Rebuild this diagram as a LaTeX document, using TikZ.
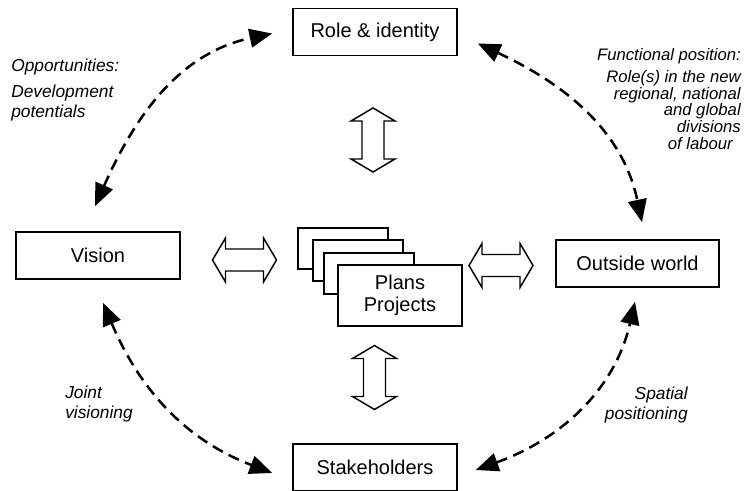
\documentclass[tikz,border=0pt]{standalone}
\usepackage{fontspec}
\setmainfont{Liberation Sans}
\usetikzlibrary{arrows.meta,calc}

\tikzset{
    box/.style={draw, line width=1.2pt, fill=white, minimum width=123pt, minimum height=35.25pt,
        inner sep=0pt, font=\fontsize{15}{17}\selectfont},
    card/.style={draw, line width=1.2pt, fill=white, minimum width=67.5pt, minimum height=30.75pt, inner sep=0pt},
    note/.style={inner sep=0pt, font=\fontsize{13}{15}\selectfont\itshape},
    link/.style={line width=1.9pt, dash pattern=on 8.5pt off 5pt,
        {Triangle[length=17pt,width=14pt]}-{Triangle[length=17pt,width=14pt]}},
    hollow arrow/.pic={
        \draw[line width=1.1pt, fill=white, line join=miter]
            (-32,0) -- (-19,22) -- (-19,11) -- (19,11) -- (19,22) -- (32,0)
            -- (19,-22) -- (19,-11) -- (-19,-11) -- (-19,-22) -- cycle;
    }
}

\begin{document}
\begin{tikzpicture}[x=0.75pt, y=0.75pt]
        \useasboundingbox (0,0) rectangle (745,491);

        % Main boxes
        \node[box] (role) at (375,459) {Role \& identity};
        \node[box] (vision) at (98,235.5) {Vision};
        \node[box, minimum width=122.25pt] (outside) at (637.5,227.5) {Outside world};
        \node[box] (stake) at (375,23.5) {Stakeholders};

        % Stack of plans in the middle
        \foreach \n/\x/\y in {1/343/242.5, 2/358/230.5, 3/369/217.5} {
            \node[card] (card\n) at (\x,\y) {};
        };
        \node[box, minimum width=93pt, minimum height=45.75pt, align=center] (plans) at (400,195.5)
            {Plans\\Projects};

        % Hollow two-way arrows
        \foreach \x/\y/\r in {244.5/231/0, 501/225.5/0, 373/351/90, 374.5/113.5/90} {
            \pic[rotate=\r] at (\x,\y) {hollow arrow};
        };

        % Dashed links round the circle
        \draw[link] ($(vision.north)+(-3,25)$) to[out=66,in=192] ($(role.west)+(-20,-1.5)$);
        \draw[link] ($(role.east)+(20,-11.5)$) to[out=-25,in=102] ($(outside.north)+(4.5,17)$);
        \draw[link] ($(vision.south)+(5,-23)$) to[out=-67,in=159] ($(stake.west)+(-20,-5.5)$);
        \draw[link] ($(stake.east)+(18,-2.5)$) to[out=20,in=-103] ($(outside.south)+(-2.5,-14)$);

        % Labels
        \node[note, anchor=north west, align=left] (opp) at (11,432)
            {Opportunities:\\[4.5pt]Development\\potentials};
        \node[note, anchor=north east, align=right, font=\fontsize{12.5}{12.5}\selectfont\itshape] (func) at (741,443)
            {Functional position:\\[4pt]Role(s) in the new\\regional, national\\and global\\divisions\hspace*{9pt}\\of labour\hspace*{6pt}};
        \node[note, anchor=north west, align=left] (joint) at (65,105) {Joint\\visioning};
        \node[note, anchor=north east, align=right] (spatial) at (688,104) {Spatial\\positioning};
    \end{tikzpicture}
\end{document}
